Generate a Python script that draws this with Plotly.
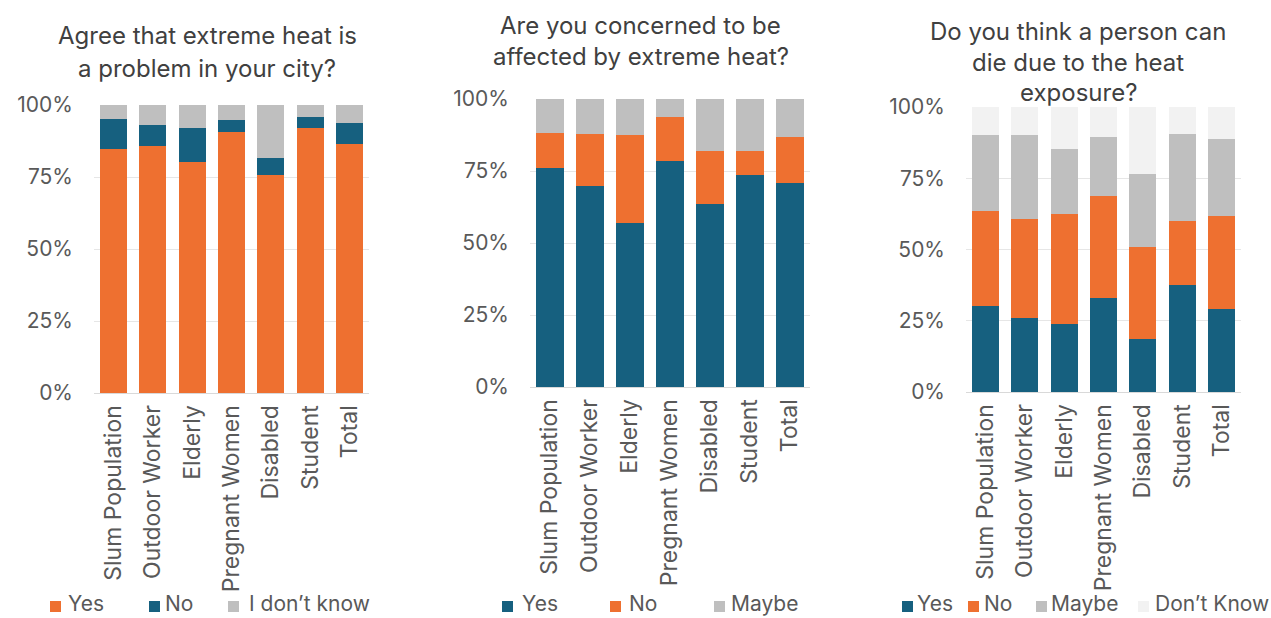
import plotly.graph_objects as go

W, H = 1271, 618

# ---- data -----------------------------------------------------------------
groups = ["Slum Population", "Outdoor Worker", "Elderly", "Pregnant Women",
          "Disabled", "Student", "Total"]

# Q1: Agree that extreme heat is a problem in your city?
q1_yes = [84.7, 85.6, 80.1, 90.5, 75.6, 92.1, 86.5]
q1_no = [10.5, 7.3, 11.9, 4.3, 5.9, 3.6, 7.4]
q1_dont_know = [4.8, 7.1, 8.0, 5.2, 18.5, 4.3, 6.1]

# Q2: Are you concerned to be affected by extreme heat?
q2_yes = [76.1, 69.8, 56.8, 78.4, 63.4, 73.6, 70.9]
q2_no = [12.0, 17.9, 30.6, 15.4, 18.4, 8.3, 16.0]
q2_maybe = [11.9, 12.3, 12.6, 6.2, 18.2, 18.1, 13.1]

# Q3: Do you think a person can die due to the heat exposure?
q3_yes = [30.1, 26.0, 23.8, 33.1, 18.7, 37.5, 29.0]
q3_no = [33.4, 34.8, 38.7, 35.8, 32.2, 22.4, 32.6]
q3_maybe = [26.8, 29.3, 22.6, 20.6, 25.7, 30.5, 27.2]
q3_dont_know = [9.7, 9.9, 14.9, 10.5, 23.4, 9.6, 11.2]

y_ticks = [0, 25, 50, 75, 100]
y_tick_labels = ["0%", "25%", "50%", "75%", "100%"]

# ---- styling --------------------------------------------------------------
ORANGE = "#EE7030"
BLUE = "#16607F"
GRAY = "#BFBFBF"
PALE = "#F2F2F2"
TEXT = "#595959"
TITLE = "#404040"
FONT = "Inter"


def px(x):
    return x / W


def py(y):
    return 1 - y / H


panels = [
    dict(
        title=["Agree that extreme heat is", "a problem in your city?"],
        title_x=207, title_y=[36, 68],
        x_dom=(94, 369), y_dom=(393, 105),
        series=[("Yes", q1_yes, ORANGE), ("No", q1_no, BLUE),
                ("I don\u2019t know", q1_dont_know, GRAY)],
        legend=[(50, 66), (149, 163), (228, 247)],
    ),
    dict(
        title=["Are you concerned to be", "affected by extreme heat?"],
        title_x=641, title_y=[25, 57],
        x_dom=(530, 810), y_dom=(387, 99),
        series=[("Yes", q2_yes, BLUE), ("No", q2_no, ORANGE),
                ("Maybe", q2_maybe, GRAY)],
        legend=[(502, 520), (610, 627), (714, 729)],
    ),
    dict(
        title=["Do you think a person can", "die due to the heat", "exposure?"],
        title_x=1078, title_y=[31, 62, 93],
        x_dom=(966, 1241), y_dom=(392, 107),
        series=[("Yes", q3_yes, BLUE), ("No", q3_no, ORANGE),
                ("Maybe", q3_maybe, GRAY), ("Don\u2019t Know", q3_dont_know, PALE)],
        legend=[(902, 915), (968, 982), (1036, 1049), (1138, 1153)],
    ),
]

fig = go.Figure()
annotations = []
shapes = []
LEGEND_BOTTOM = 618

for i, p in enumerate(panels, start=1):
    xa = "x" if i == 1 else f"x{i}"
    ya = "y" if i == 1 else f"y{i}"
    for name, vals, color in p["series"]:
        fig.add_trace(go.Bar(
            x=groups, y=vals, name=name, marker_color=color,
            marker_line_width=0, xaxis=xa, yaxis=ya, showlegend=False,
        ))

    sfx = "" if i == 1 else str(i)
    fig.layout[f"xaxis{sfx}"] = dict(
        domain=[px(p["x_dom"][0]), px(p["x_dom"][1])], anchor=ya,
        automargin=False, tickangle=-90, showgrid=False, showline=True,
        linecolor="#D9D9D9", linewidth=1, ticks="", ticklabelstandoff=2,
        tickfont=dict(family=FONT, size=23, color=TEXT),
    )
    fig.layout[f"yaxis{sfx}"] = dict(
        domain=[py(p["y_dom"][0]), py(p["y_dom"][1])], anchor=xa,
        automargin=False, range=[0, 100],
        tickvals=y_ticks, ticktext=y_tick_labels,
        showgrid=True, gridcolor="#E6E6E6", gridwidth=1, zeroline=False,
        showline=False, ticks="", ticklabelstandoff=20,
        tickfont=dict(family=FONT, size=21, color=TEXT),
    )

    for line, ty in zip(p["title"], p["title_y"]):
        annotations.append(dict(
            text=line, x=px(p["title_x"]), y=py(ty), xref="paper", yref="paper",
            xanchor="center", yanchor="middle", showarrow=False,
            font=dict(family=FONT, size=24, color=TITLE),
        ))

    for (name, _, color), (sq_x, tx) in zip(p["series"], p["legend"]):
        shapes.append(dict(
            type="rect", xref="paper", yref="paper",
            x0=px(sq_x), x1=px(sq_x + 11), y0=py(612), y1=py(601),
            fillcolor=color, line_width=0,
        ))
        annotations.append(dict(
            text=name, x=px(tx), y=py(LEGEND_BOTTOM), xref="paper", yref="paper",
            xanchor="left", yanchor="bottom", showarrow=False,
            font=dict(family=FONT, size=21, color=TEXT),
        ))

fig.update_layout(
    width=W, height=H, margin=dict(l=0, r=0, t=0, b=0),
    barmode="stack", bargap=0.31,
    paper_bgcolor="white", plot_bgcolor="white",
    annotations=annotations, shapes=shapes, showlegend=False,
)

fig.write_html("out.html")
